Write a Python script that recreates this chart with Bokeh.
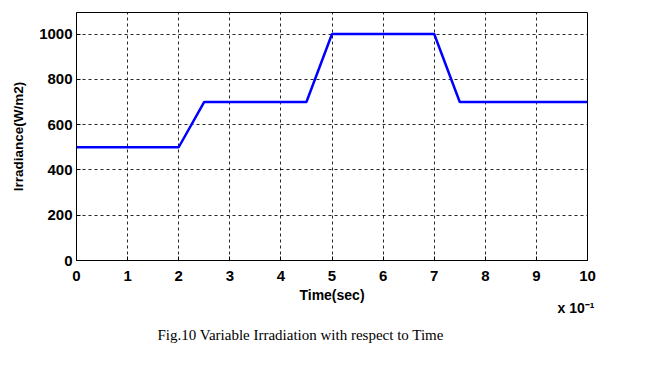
from bokeh.plotting import figure
from bokeh.models import Title, FixedTicker, Range1d
from bokeh.embed import file_html
from bokeh.resources import INLINE

# data
time = [0, 2, 2.5, 4.5, 5, 7, 7.5, 10]
irradiance = [500, 500, 700, 700, 1000, 1000, 700, 700]
x_ticks = [0, 1, 2, 3, 4, 5, 6, 7, 8, 9, 10]
y_ticks = [0, 200, 400, 600, 800, 1000]

p = figure(width=645, height=359, output_backend="svg", toolbar_location=None,
           x_range=Range1d(0, 10), y_range=Range1d(0, 1095),
           min_border_left=76, min_border_right=58, min_border_top=12, min_border_bottom=10)
p.background_fill_color = "white"
p.border_fill_color = "white"
p.outline_line_color = "black"
p.outline_line_width = 1

p.line(time, irradiance, line_color="#0000ff", line_width=2.5)

for ax in (p.xaxis, p.yaxis):
    ax.major_tick_in = 4
    ax.major_tick_out = 0
    ax.minor_tick_line_color = None
    ax.axis_line_color = "black"
    ax.major_tick_line_color = "black"
    ax.major_label_text_font = "Liberation Sans"
    ax.major_label_text_font_style = "bold"
    ax.major_label_text_font_size = "15px"
    ax.major_label_text_color = "black"
    ax.axis_label_text_font = "Liberation Sans"
    ax.axis_label_text_font_style = "bold"
    ax.axis_label_text_color = "black"

p.xaxis.ticker = FixedTicker(ticks=x_ticks)
p.yaxis.ticker = FixedTicker(ticks=y_ticks)
p.xaxis.major_label_standoff = 10
p.yaxis.major_label_standoff = 4
p.xaxis.axis_label = "Time(sec)"
p.yaxis.axis_label = "Irradiance(W/m2)"
p.xaxis.axis_label_text_font_size = "14px"
p.yaxis.axis_label_text_font_size = "13.5px"
p.xaxis.axis_label_standoff = 3
p.yaxis.axis_label_standoff = 10

p.grid.grid_line_color = "black"
p.grid.grid_line_dash = "3 3"
p.grid.grid_line_width = 1
p.grid.grid_line_alpha = 0.85

exp_title = Title(text="x 10\u207b\u00b9", align="right", offset=-7, standoff=-16,
                  text_font="Liberation Sans", text_font_style="bold",
                  text_font_size="14px", text_color="black")
p.add_layout(exp_title, "below")
cap = Title(text="Fig.10 Variable Irradiation with respect to Time", align="left", offset=81,
            standoff=34, text_font="Liberation Serif", text_font_style="normal",
            text_font_size="15px", text_color="black")
p.add_layout(cap, "below")

open("out.html", "w").write(file_html(p, INLINE))
